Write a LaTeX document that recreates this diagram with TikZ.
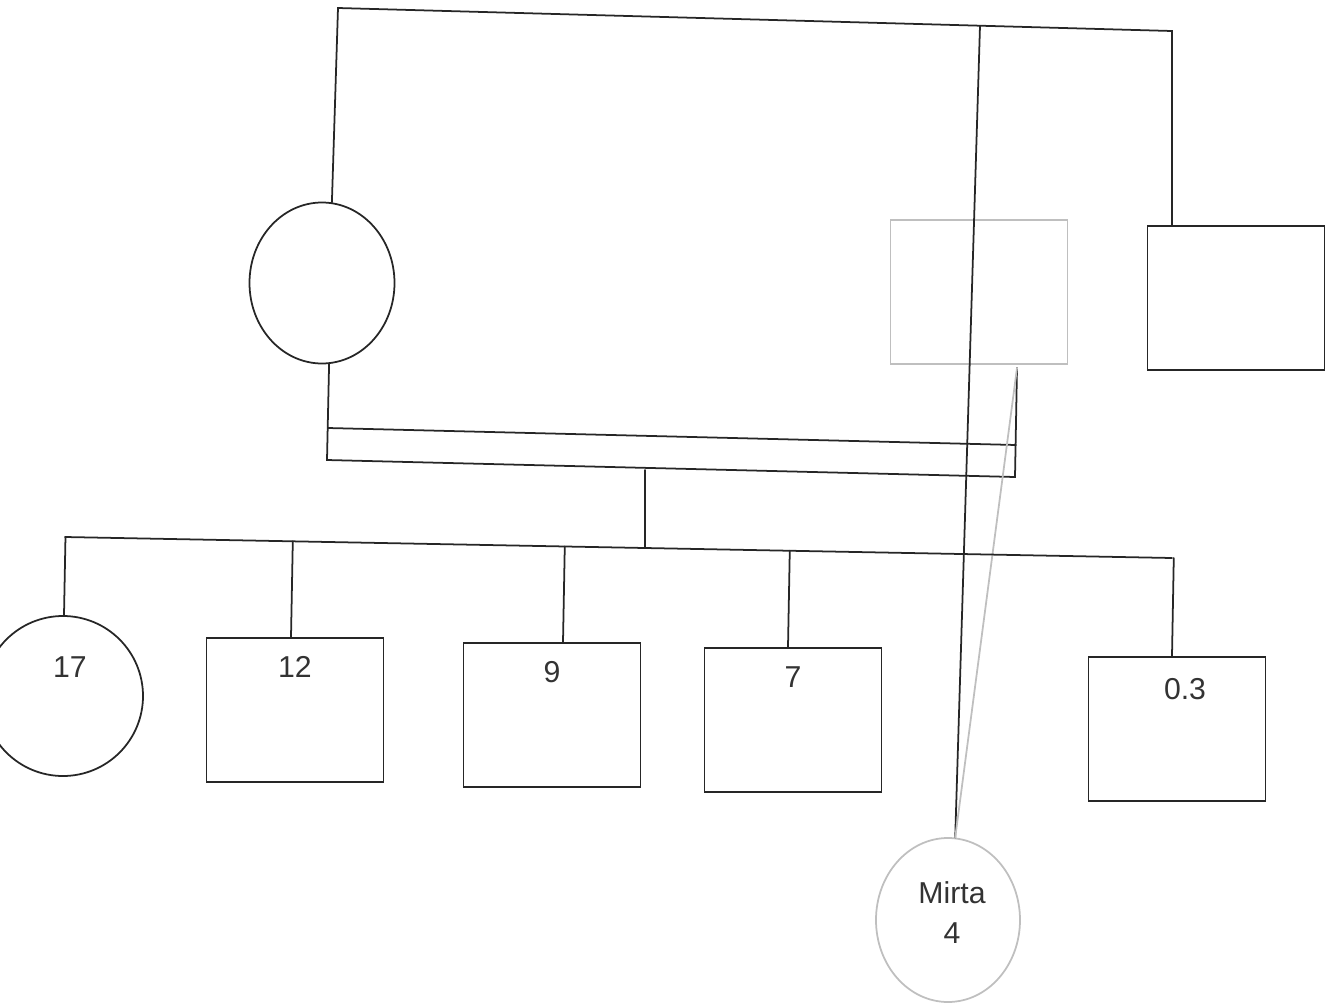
\documentclass[tikz,border=0pt]{standalone}
\usepackage{fontspec}
\setmainfont{Liberation Sans}
\usetikzlibrary{shapes.geometric, positioning, calc}

\begin{document}
\begin{tikzpicture}[
				% Defining node styles
				female/.style={ellipse, draw=black!85, line width=0.5pt, minimum width=1.45cm, minimum height=1.61cm, inner sep=0pt},
				male/.style={rectangle, draw=black!85, line width=0.5pt, minimum width=1.77cm, minimum height=1.44cm, inner sep=0pt},
				faded/.style={draw=black!25},
				tie/.style={line width=0.5pt, draw=black!85, line cap=round},
				tag/.style={font=\fontsize{8.6}{11.4}\selectfont, text=black!80},
				age/.style={label={[tag, anchor=center, yshift=-0.30cm]north:#1}}
			]
			\useasboundingbox (0,0) rectangle (13.27,-10.07);

			% Placing parents
			\node[female] (mother) at (3.22,-2.83) {};
			\node[male, faded] (father) at (9.79,-2.92) {};
			\node[male] (partner) at (12.36,-2.98) {};

			% Placing children
			\node[female, minimum width=1.60cm, minimum height=1.60cm, label={[tag, anchor=center, yshift=-0.52cm, xshift=0.07cm]north:17}] (c17) at (0.63,-6.96) {};
			\node[male, age=12] (c12) at (2.95,-7.10) {};
			\node[male, age=9] (c9) at (5.52,-7.15) {};
			\node[male, age=7] (c7) at (7.93,-7.20) {};
			\node[male, label={[tag, anchor=center, yshift=-0.33cm, xshift=0.08cm]north:0.3}] (c03) at (11.77,-7.29) {};
			\node[female, faded, minimum width=1.44cm, minimum height=1.64cm, label={[tag, align=center, anchor=center, xshift=0.04cm, yshift=0.07cm]center:{Mirta\\4}}] (mirta) at (9.48,-9.20) {};

			% Helper points on the lines
			\coordinate (topL) at (3.38,-0.08);
			\coordinate (topM) at (9.80,-0.26);
			\coordinate (topR) at (11.72,-0.31);
			\coordinate (hook) at (10.17,-3.68);
			\coordinate (ul) at (3.28,-4.28);
			\coordinate (ur) at (10.16,-4.45);
			\coordinate (ml) at (3.27,-4.60);
			\coordinate (mr) at (10.15,-4.77);
			\coordinate (drop) at (6.45,-4.70);
			\coordinate (hub) at (6.45,-5.48);
			\coordinate (sibL) at (0.65,-5.37);
			\coordinate (sibR) at (11.72,-5.58);

			% Drawing the top union
			\draw[tie] (mother.83) -- (topL) -- (topR) -- (topR |- partner.north);
			\draw[tie] (topM) -- (mirta.85);

			% Drawing the double union line
			\draw[tie] (mother.275) -- (ml) -- (mr) -- (hook);
			\draw[tie] (ul) -- (ur);
			\draw[tie, faded] (hook) -- (mirta.85);

			% Drawing the sibship
			\draw[tie] (drop) -- (hub);
			\draw[tie] (sibL) -- (sibR);
			\foreach \kid/\dx in {c17/0.01, c12/-0.04, c9/0.11, c7/-0.05, c03/-0.05} {
				\path ($(\kid.north)+(\dx,0)$) coordinate (foot);
				\draw[tie] ($(sibL)!(foot)!(sibR)$) -- (foot);
			}

		\end{tikzpicture}
\end{document}
